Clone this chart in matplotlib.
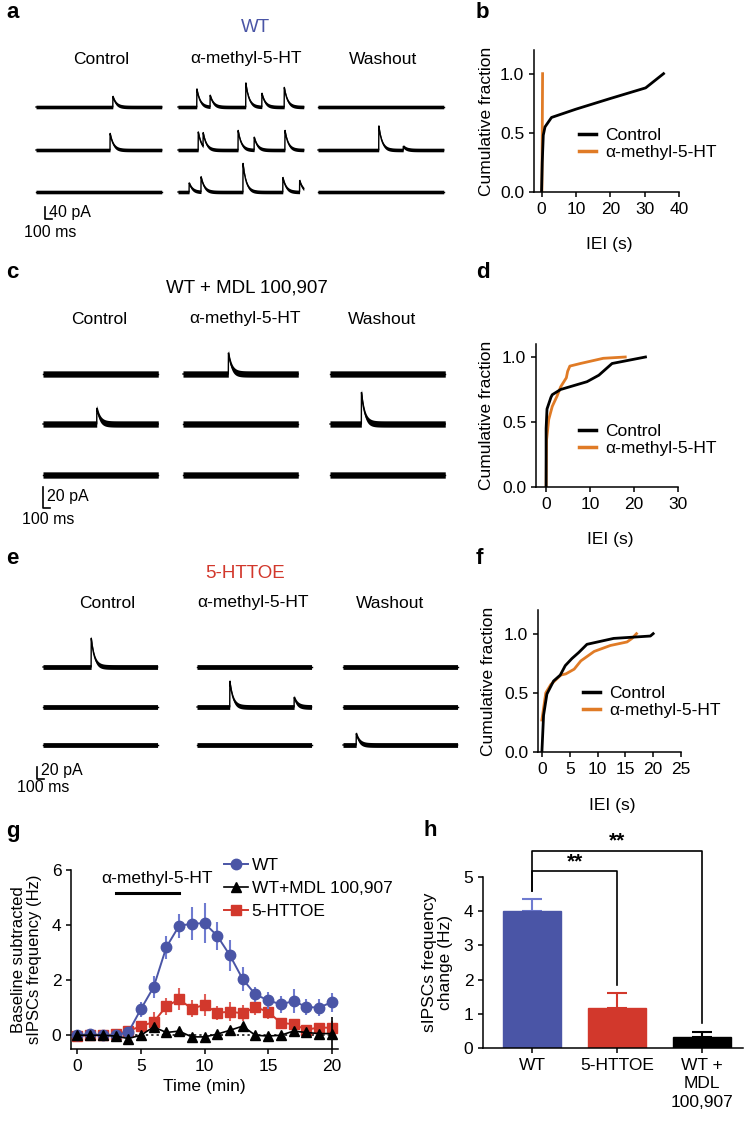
import numpy as np
import matplotlib
matplotlib.use('Agg')
import matplotlib.pyplot as plt
from matplotlib.lines import Line2D

plt.rcParams['font.family'] = ['Liberation Sans', 'DejaVu Sans']
plt.rcParams['font.size'] = 12
plt.rcParams['axes.linewidth'] = 1.1
plt.rcParams['xtick.major.width'] = 1.1
plt.rcParams['ytick.major.width'] = 1.1
plt.rcParams['xtick.major.size'] = 3.5
plt.rcParams['ytick.major.size'] = 3.5

# ---------------- data ----------------
# example sIPSC events per trace row: (time ms, amplitude pA)
a_control_events = [[(1100, 35)], [(1060, 55)], []]
a_drug_events = [[(270, 60), (460, 38), (970, 80), (1200, 45), (1520, 65)],
                 [(290, 60), (360, 45), (860, 65), (1090, 42), (1530, 65)],
                 [(160, 30), (330, 50), (930, 95), (1500, 48), (1740, 38)]]
a_wash_events = [[], [(870, 80), (1220, 12)], []]

c_control_events = [[], [(770, 15)], []]
c_drug_events = [[(650, 20)], [], []]
c_wash_events = [[], [(450, 30)], []]

e_control_events = [[(690, 48)], [], []]
e_drug_events = [[], [(470, 43), (1390, 16)], []]
e_wash_events = [[], [], [(190, 19)]]

column_titles = ["Control", "\u03b1-methyl-5-HT", "Washout"]

# cumulative IEI distributions
b_ctrl_x = [0.0, 0.2, 0.5, 1.0, 2.9, 10, 20, 30.3, 35.5]
b_ctrl_y = [0.0, 0.25, 0.48, 0.55, 0.63, 0.70, 0.79, 0.88, 1.0]
b_drug_x = [0.1, 0.2, 0.3]
b_drug_y = [0.0, 0.5, 1.0]

d_ctrl_x = [0.0, 0.0, 0.2, 1.1, 1.4, 3.3, 9.3, 12.0, 15.0, 22.6]
d_ctrl_y = [0.0, 0.45, 0.60, 0.69, 0.71, 0.75, 0.81, 0.86, 0.95, 1.0]
d_drug_x = [0.0, 0.1, 0.6, 1.4, 2.5, 3.3, 4.6, 4.9, 5.4, 7.8, 13.0, 18.0]
d_drug_y = [0.0, 0.36, 0.52, 0.62, 0.70, 0.77, 0.84, 0.89, 0.93, 0.95, 0.99, 1.0]

f_ctrl_x = [0.0, 0.3, 0.9, 2.1, 3.3, 4.2, 5.4, 6.6, 8.1, 12.9, 19.5, 20.0]
f_ctrl_y = [0.0, 0.31, 0.49, 0.60, 0.65, 0.73, 0.79, 0.84, 0.91, 0.96, 0.98, 1.0]
f_drug_x = [0.0, 0.7, 1.6, 3.4, 4.3, 5.8, 7.0, 9.4, 12.3, 15.3, 16.2, 17.0]
f_drug_y = [0.27, 0.50, 0.57, 0.65, 0.66, 0.70, 0.77, 0.85, 0.90, 0.93, 0.96, 1.0]

# time course (g)
time_min = list(range(21))
wt_freq = [0.0, 0.04, 0.0, 0.0, 0.1, 0.95, 1.75, 3.2, 3.97, 4.05, 4.07, 3.61, 2.9, 2.04,
           1.48, 1.27, 1.12, 1.24, 1.03, 1.0, 1.2]
wt_err = [0.05, 0.05, 0.05, 0.05, 0.08, 0.27, 0.4, 0.42, 0.45, 0.6, 0.72, 0.5, 0.55, 0.45,
          0.27, 0.3, 0.3, 0.45, 0.3, 0.3, 0.35]
oe_freq = [-0.03, 0.0, 0.0, 0.03, 0.15, 0.33, 0.48, 1.05, 1.3, 0.97, 1.1, 0.82, 0.85, 0.8,
           1.02, 0.85, 0.45, 0.4, 0.2, 0.28, 0.27]
oe_err = [0.05, 0.05, 0.05, 0.05, 0.08, 0.2, 0.35, 0.3, 0.4, 0.3, 0.4, 0.25, 0.35, 0.3,
          0.3, 0.25, 0.12, 0.15, 0.1, 0.1, 0.25]
mdl_freq = [0.0, 0.0, 0.0, -0.03, -0.12, 0.0, 0.3, 0.1, 0.15, -0.06, -0.06, 0.04, 0.18, 0.33,
            0.0, -0.03, 0.0, 0.15, 0.1, 0.06, 0.06]
mdl_err = [0.04, 0.04, 0.04, 0.04, 0.05, 0.06, 0.1, 0.08, 0.08, 0.06, 0.06, 0.06, 0.08, 0.1,
           0.05, 0.05, 0.05, 0.08, 0.08, 0.06, 0.6]
drug_window = [3, 8]

# summary (h)
h_groups = ["WT", "5-HTTOE", "WT +\nMDL\n100,907"]
h_means = [4.0, 1.17, 0.31]
h_sems = [0.37, 0.43, 0.15]

BLUE = '#4a55a6'
RED = '#d2382c'
ORANGE = '#e07b26'

# ---------------- figure ----------------
W, H = 746, 1121
fig = plt.figure(figsize=(W / 100, H / 100), dpi=100)


def rect(x0, y0, x1, y1):
    return [x0 / W, 1 - y1 / H, (x1 - x0) / W, (y1 - y0) / H]


def fx(x):
    return x / W


def fy(y):
    return 1 - y / H


def panel_letter(x, y, s):
    fig.text(fx(x), fy(y), s, fontsize=16, fontweight='bold', ha='left', va='center')


def draw_traces(x0, y0, x1, y1, ms_px, pa_px, col_px, row_px, dur, events_cols,
                band, tau, scale):
    ax = fig.add_axes(rect(x0, y0, x1, y1))
    ax.set_xlim(0, (x1 - x0) * ms_px)
    ax.set_ylim(-(y1 - y0) * pa_px, 0)
    ax.axis('off')
    t = np.arange(0, dur, 2.0)
    for ci, cx in enumerate(col_px):
        for ri, ry in enumerate(row_px):
            y = np.zeros_like(t)
            for (t0, amp) in events_cols[ci][ri]:
                m = t >= t0
                y[m] += amp * np.exp(-(t[m] - t0) / tau)
            xo = (cx - x0) * ms_px
            yo = -(ry - y0) * pa_px
            ax.fill_between(t + xo, y + yo - band, y + yo + band, color='k', lw=0)
            ax.plot(t + xo, y + yo, color='k', lw=1.0)
    # scale bar
    sx, sy, pa, ms, ptxt_x, ptxt_y, mtxt_x, mtxt_y = scale
    bx = (sx - x0) * ms_px
    by = -(sy - y0) * pa_px
    ax.plot([bx, bx, bx + ms], [by + pa, by, by], color='k', lw=1.2, clip_on=False)
    fig.text(fx(ptxt_x), fy(ptxt_y), f"{pa} pA", fontsize=11.5, ha='left', va='center')
    fig.text(fx(mtxt_x), fy(mtxt_y), f"{ms} ms", fontsize=11.5, ha='center', va='center')
    return ax


def titles(y, xs):
    for x, s in zip(xs, column_titles):
        fig.text(fx(x), fy(y), s, fontsize=12.5, ha='center', va='center')


# Panel a
panel_letter(6, 12, 'a')
fig.text(fx(255), fy(27), 'WT', color=BLUE, fontsize=13.5, ha='center', va='center')
titles(59, [101, 246, 383])
draw_traces(30, 70, 450, 240, 14.3, 3.33, [36, 178, 318], [107, 150, 192], 1800,
            [a_control_events, a_drug_events, a_wash_events], 6.0, 45,
            (45, 219, 40, 100, 49, 212, 50, 232))

# Panel c
panel_letter(6, 273, 'c')
fig.text(fx(247), fy(288), 'WT + MDL 100,907', fontsize=13.5, ha='center', va='center')
titles(319, [99, 245, 382])
draw_traces(30, 330, 450, 525, 14.3, 0.95, [43, 183, 330], [374, 424, 475], 1650,
            [c_control_events, c_drug_events, c_wash_events], 3.0, 45,
            (43, 508, 20, 100, 47, 497, 48, 519))

# Panel e
panel_letter(6, 559, 'e')
fig.text(fx(245), fy(574), '5-HTTOE', color=RED, fontsize=13.5, ha='center', va='center')
titles(603, [107, 253, 390])
draw_traces(30, 615, 460, 790, 14.3, 1.67, [43, 197, 343], [667, 707, 745], 1640,
            [e_control_events, e_drug_events, e_wash_events], 4.0, 45,
            (37, 779, 20, 100, 41, 770, 43, 787))


def style(ax):
    ax.spines['top'].set_visible(False)
    ax.spines['right'].set_visible(False)
    ax.tick_params(labelsize=12.5, direction='out')


def cdf_panel(box, xlim, ylim, xticks, cx, cy, dx, dy, leg_anchor, lab_x, iei_y):
    x0, y0, x1, y1 = box
    ax = fig.add_axes(rect(*box))
    style(ax)
    ax.plot(cx, cy, color='k', lw=2.0, zorder=3)
    ax.plot(dx, dy, color=ORANGE, lw=2.0, zorder=2)
    ax.set_xlim(*xlim)
    ax.set_ylim(*ylim)
    ax.set_xticks(xticks)
    ax.set_yticks([0.0, 0.5, 1.0])
    ax.set_yticklabels(['0.0', '0.5', '1.0'])
    ax.set_ylabel('Cumulative fraction', fontsize=12.5)
    ax.yaxis.set_label_coords((lab_x - x0) / (x1 - x0), 0.5)
    ax.set_xlabel('IEI (s)', fontsize=12.5)
    ax.xaxis.set_label_coords(0.52, -(iei_y - y1) / (y1 - y0))
    handles = [Line2D([], [], color='k', lw=2.5), Line2D([], [], color=ORANGE, lw=2.5)]
    fig.legend(handles, ['Control', '\u03b1-methyl-5-HT'], loc='upper left',
               bbox_to_anchor=(fx(leg_anchor[0]), fy(leg_anchor[1])), frameon=False,
               handlelength=1.0, handletextpad=0.5, labelspacing=0.12, borderpad=0,
               borderaxespad=0, fontsize=12.5)
    return ax


panel_letter(476, 12, 'b')
cdf_panel((534, 50, 679, 192), (-2.2, 40), (0, 1.2), [0, 10, 20, 30, 40],
          b_ctrl_x, b_ctrl_y, b_drug_x, b_drug_y, (579, 128), 494, 237)
panel_letter(476, 273, 'd')
cdf_panel((536, 344, 678, 487), (-2.3, 30), (0, 1.1), [0, 10, 20, 30],
          d_ctrl_x, d_ctrl_y, d_drug_x, d_drug_y, (579, 424), 494, 532)
panel_letter(476, 559, 'f')
cdf_panel((538, 610, 681, 752), (-0.7, 25), (0, 1.2), [0, 5, 10, 15, 20, 25],
          f_ctrl_x, f_ctrl_y, f_drug_x, f_drug_y, (583, 686), 496, 798)

# Panel g
panel_letter(6, 832, 'g')
axg = fig.add_axes(rect(71, 870, 338, 1049))
style(axg)
axg.set_xlim(-0.5, 20.5)
axg.set_ylim(-0.5, 6)
axg.axhline(0, color='k', ls=(0, (1.5, 2.0)), lw=1.1, zorder=1)
axg.errorbar(time_min, wt_freq, yerr=wt_err, color=BLUE, ecolor='#6f7bd0', marker='o',
             ms=7.5, lw=1.4, elinewidth=1.5, capsize=0, zorder=4)
axg.errorbar(time_min, oe_freq, yerr=oe_err, color=RED, ecolor='#e0605a', marker='s',
             ms=7, lw=1.4, elinewidth=1.5, capsize=0, zorder=3)
axg.errorbar(time_min, mdl_freq, yerr=mdl_err, color='k', ecolor='k', marker='^',
             ms=6.5, lw=1.2, elinewidth=1.2, capsize=0, zorder=5)
axg.plot(drug_window, [5.15, 5.15], color='k', lw=2.2, clip_on=False)
axg.text(sum(drug_window) / 2 + 0.8, 5.7, '\u03b1-methyl-5-HT', fontsize=12.5, ha='center',
         va='center')
axg.set_xticks([0, 5, 10, 15, 20])
axg.set_yticks([0, 2, 4, 6])
axg.set_xlabel('Time (min)', fontsize=12.5)
axg.set_ylabel('Baseline subtracted\nsIPSCs frequency (Hz)', fontsize=12, linespacing=1.05)
axg.yaxis.set_label_coords((42 - 71) / (338 - 71), 0.5)
g_handles = [Line2D([], [], color=BLUE, marker='o', ms=7.5, lw=1.4),
             Line2D([], [], color='k', marker='^', ms=6.5, lw=1.2),
             Line2D([], [], color=RED, marker='s', ms=7, lw=1.4)]
fig.legend(g_handles, ['WT', 'WT+MDL 100,907', '5-HTTOE'], loc='upper left',
           bbox_to_anchor=(fx(224), fy(858)), frameon=False, handlelength=1.4,
           handletextpad=0.2, labelspacing=0.45, borderpad=0, borderaxespad=0, fontsize=12.5)

# Panel h
panel_letter(423, 830, 'h')
axh = fig.add_axes(rect(483, 877, 743, 1048))
style(axh)
xpos = np.arange(len(h_groups))
colors = [BLUE, RED, 'k']
ecolors = ['#6f7bd0', RED, 'k']
axh.bar(xpos, h_means, width=0.68, color=colors, edgecolor=colors, zorder=2)
for i in range(len(h_groups)):
    axh.errorbar(xpos[i], h_means[i], yerr=[[0], [h_sems[i]]], color=ecolors[i], lw=1.5,
                 capsize=7, capthick=1.5, zorder=1)
axh.set_xlim(-0.58, 2.48)
axh.set_ylim(0, 5)
axh.set_yticks([0, 1, 2, 3, 4, 5])
axh.set_xticks(xpos)
axh.set_xticklabels(h_groups, fontsize=12.5, linespacing=1.3)
axh.set_ylabel('sIPSCs frequency\nchange (Hz)', fontsize=12.5, linespacing=1.1)
axh.yaxis.set_label_coords((453 - 483) / (743 - 483), 0.5)
# significance brackets
axh.plot([0, 0, 2, 2], [4.6, 5.77, 5.77, 0.73], color='k', lw=1.2, clip_on=False)
axh.plot([0, 0, 1, 1], [4.6, 5.19, 5.19, 1.84], color='k', lw=1.2, clip_on=False)
axh.text(1.0, 6.05, '**', fontsize=15, ha='center', va='center', fontweight='bold')
axh.text(0.5, 5.45, '**', fontsize=15, ha='center', va='center', fontweight='bold')

fig.savefig('out.png', dpi=100)
